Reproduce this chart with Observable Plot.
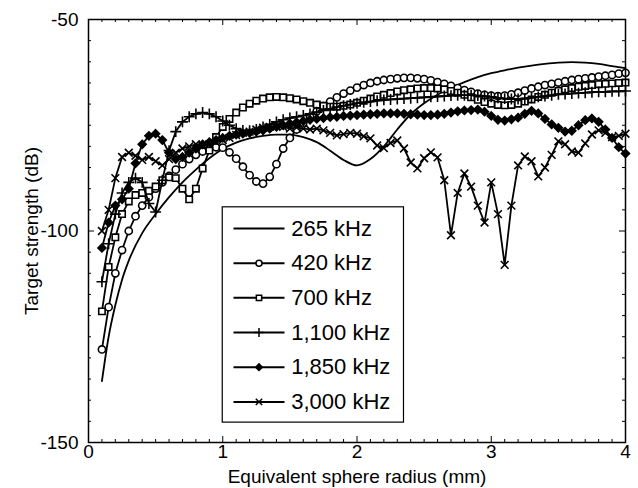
<!DOCTYPE html>
<html><head><meta charset="utf-8">
<script src="https://cdn.jsdelivr.net/npm/d3@7"></script>
<script src="https://cdn.jsdelivr.net/npm/@observablehq/plot@0.6"></script>
<style>
html,body{margin:0;padding:0;background:#fff;}
#chart{width:638px;height:488px;}
</style></head><body><div id="chart"></div>
<script>
// ---- data ----
const radius = [0.10,0.15,0.20,0.25,0.30,0.35,0.40,0.45,0.50,0.55,
0.60,0.65,0.70,0.75,0.80,0.85,0.90,0.95,1.00,1.05,
1.10,1.15,1.20,1.25,1.30,1.35,1.40,1.45,1.50,1.55,
1.60,1.65,1.70,1.75,1.80,1.85,1.90,1.95,2.00,2.05,
2.10,2.15,2.20,2.25,2.30,2.35,2.40,2.45,2.50,2.55,
2.60,2.65,2.70,2.75,2.80,2.85,2.90,2.95,3.00,3.05,
3.10,3.15,3.20,3.25,3.30,3.35,3.40,3.45,3.50,3.55,
3.60,3.65,3.70,3.75,3.80,3.85,3.90,3.95,4.00];

const radius265 = [0.10,0.15,0.20,0.25,0.30,0.40,0.50,0.60,0.70,0.80,0.90,1.00,1.10,1.20,1.30,1.40,1.50,1.60,1.70,1.80,1.90,2.00,2.10,2.20,2.30,2.40,2.50,2.60,2.70,2.80,2.90,3.00,3.10,3.20,3.30,3.40,3.50,3.60,3.70,3.80,3.90,4.00];
const ts265 = [-135.5,-125,-117.5,-111.5,-107,-100.5,-96,-92,-88.5,-85.5,-82.8,-80.6,-79.1,-78.1,-77.5,-77.2,-77.2,-77.8,-79,-81,-83.2,-84.5,-83,-80,-76,-72.4,-69.8,-67.8,-66.2,-64.8,-63.6,-62.7,-62,-61.4,-60.9,-60.5,-60.2,-60.1,-60.2,-60.5,-61,-61.5];

const ts420 = [-128,-118,-110,-104.5,-100,-96.5,-94,-92,-90,-88.5,
-87,-85.5,-84.2,-83,-82,-81.2,-80.6,-80.2,-80.3,-81.4,
-82.9,-84.8,-86.8,-88.3,-88.8,-87.2,-84.2,-80.5,-78,-76,
-74.4,-73,-71.7,-70.5,-69.4,-68.4,-67.5,-66.8,-66.1,-65.5,
-65,-64.6,-64.3,-64.1,-63.9,-63.8,-63.8,-63.9,-64.1,-64.4,
-64.8,-65.2,-65.7,-66.2,-66.7,-67.1,-67.5,-67.8,-68,-68.1,
-68,-67.7,-67.3,-66.8,-66.3,-65.9,-65.5,-65.2,-64.9,-64.6,
-64.3,-64.1,-63.9,-63.7,-63.5,-63.3,-63.1,-62.8,-62.6];

const ts700 = [-119,-108.5,-101.5,-96,-93,-91.5,-91,-90.5,-89.5,-88,
-87.3,-87.5,-90,-92.5,-90,-85.2,-81,-77.8,-75.4,-73.5,
-72,-70.8,-69.9,-69.2,-68.7,-68.4,-68.3,-68.4,-68.6,-68.9,
-69.3,-69.7,-70.1,-70.4,-70.6,-70.6,-70.4,-70.1,-69.7,-69.2,
-68.7,-68.2,-67.8,-67.4,-67,-66.7,-66.5,-66.3,-66.2,-66.2,
-66.3,-66.5,-66.9,-67.3,-67.8,-68.4,-69,-69.5,-69.9,-70.2,
-70.3,-70.2,-69.9,-69.4,-68.9,-68.3,-67.8,-67.3,-66.9,-66.5,
-66.2,-65.9,-65.7,-65.5,-65.3,-65.2,-65.1,-65,-64.9];

const ts1100 = [-112,-103,-96,-91,-88.5,-87.5,-88.5,-93.5,-95.5,-88,
-81,-76.5,-74.2,-73,-72.3,-72,-72.3,-73,-74,-75,
-75.8,-76.2,-76.3,-76,-75.4,-74.8,-74.2,-73.7,-73.3,-73,
-72.7,-72.3,-71.9,-71.5,-71.1,-70.7,-70.4,-70.1,-69.8,-69.6,
-69.4,-69.2,-69,-68.9,-68.8,-68.7,-68.6,-68.5,-68.4,-68.3,
-68.2,-68.1,-68,-67.9,-67.9,-67.9,-68,-68.1,-68.3,-68.5,
-68.7,-68.8,-68.8,-68.7,-68.5,-68.3,-68.1,-67.9,-67.7,-67.6,
-67.5,-67.4,-67.3,-67.2,-67.1,-67.1,-67,-67,-66.9];

const ts1850 = [-104,-98,-94,-92.5,-90,-84,-79.5,-77.5,-77,-78.5,
-81.5,-83,-82.5,-81.5,-80.5,-79.5,-79,-78.5,-78,-77.5,
-77.2,-77,-76.8,-76.5,-76.2,-75.8,-75.4,-75,-74.6,-74.3,
-74,-73.7,-73.5,-73.3,-73.1,-73,-72.8,-72.7,-72.6,-72.5,
-72.4,-72.3,-72.2,-72.2,-72.2,-72.3,-72.4,-72.5,-72.6,-72.6,
-72.5,-72.3,-72,-71.7,-71.5,-71.4,-71.3,-71.8,-72.8,-73.7,
-73.9,-73.6,-73.2,-72.3,-71.6,-72.2,-73.5,-74.8,-75.6,-76.5,
-76.3,-75,-73.8,-73.4,-74.2,-76,-78,-80.2,-81.7];

const ts3000 = [-100,-95,-87.5,-82.5,-81.5,-82.2,-83.2,-82.5,-83.5,-84.5,
-83,-81.5,-80.5,-80,-79.5,-79.8,-79.5,-79,-78.5,-78,
-77.3,-76.8,-76.5,-76,-75.6,-75.4,-75.2,-75.4,-75.8,-75.5,
-75.8,-76,-75.8,-76.2,-76.8,-77.4,-77.1,-76.8,-77,-77.6,
-78.1,-79.8,-80.4,-79.2,-78.6,-80.5,-83.8,-85.2,-82.8,-81.4,
-82.6,-88,-101,-91,-86.4,-89.5,-94,-98,-88.5,-96,
-108,-94,-84.5,-82.4,-83.5,-87.1,-85,-82,-78.8,-79.5,
-81.2,-81.5,-79.3,-77.2,-76.2,-76.8,-77.8,-77.5,-77];

const seriesLabels = ["265 kHz","420 kHz","700 kHz","1,100 kHz","1,850 kHz","3,000 kHz"];
const xTickLabels = [0,1,2,3,4];
const yTickLabels = [-150,-100,-50];
const xTitle = "Equivalent sphere radius (mm)";
const yTitle = "Target strength (dB)";

// ---- build tables ----
const markerSeries = [
  {label: "420 kHz",   values: ts420,  symbol: "circle",   fill: "white"},
  {label: "700 kHz",   values: ts700,  symbol: "square",   fill: "white"},
  {label: "1,100 kHz", values: ts1100, symbol: "plus",     fill: "none"},
  {label: "1,850 kHz", values: ts1850, symbol: "diamond2", fill: "black"},
  {label: "3,000 kHz", values: ts3000, symbol: "times",    fill: "none"}
];
const rows265 = radius265.map((r, i) => ({r, ts: ts265[i]}));

const W = 638, H = 488, mL = 88, mR = 13, mT = 19, mB = 46;
const frameW = W - mL - mR, frameH = H - mT - mB;

const xMinor = d3.range(1, 40).filter(i => i % 10 !== 0).map(i => i / 10);
const xMajor = [1, 2, 3];
const yMinor = d3.range(-145, -50, 5).filter(v => v !== -100);
const yMajor = [-100];

// legend layout (in data units of the chart)
const LEG = {x0: 1.0, x1: 2.35, top: -94.4, bottom: -145.3,
  lineA: 1.08, lineB: 1.46, markX: 1.27, textX: 1.51, firstY: -99.4, stepY: 8.2};
const legendY = i => LEG.firstY - LEG.stepY * i;

const marks = [];
// inward ticks
const minorLen = 3, majorLen = 6;
marks.push(Plot.tickX(xMinor, {x: d => d, insetTop: frameH - minorLen, stroke: "black"}));
marks.push(Plot.tickX(xMinor, {x: d => d, insetBottom: frameH - minorLen, stroke: "black"}));
marks.push(Plot.tickX(xMajor, {x: d => d, insetTop: frameH - majorLen, stroke: "black"}));
marks.push(Plot.tickX(xMajor, {x: d => d, insetBottom: frameH - majorLen, stroke: "black"}));
marks.push(Plot.tickY(yMinor, {y: d => d, insetRight: frameW - minorLen, stroke: "black"}));
marks.push(Plot.tickY(yMinor, {y: d => d, insetLeft: frameW - minorLen, stroke: "black"}));
marks.push(Plot.tickY(yMajor, {y: d => d, insetRight: frameW - majorLen, stroke: "black"}));
marks.push(Plot.tickY(yMajor, {y: d => d, insetLeft: frameW - majorLen, stroke: "black"}));

// 265 kHz smooth line
marks.push(Plot.line(rows265, {x: "r", y: "ts", stroke: "black", strokeWidth: 1.8, curve: "monotone-x"}));
// marker series
for (const s of markerSeries) {
  const rows = radius.map((r, i) => ({r, ts: s.values[i]}));
  marks.push(Plot.line(rows, {x: "r", y: "ts", stroke: "black", strokeWidth: 1.8}));
  marks.push(Plot.dot(rows, {x: "r", y: "ts", symbol: s.symbol, r: 3.6, fill: s.fill, stroke: "black", strokeWidth: 1.6}));
}

// legend
marks.push(Plot.rect([0], {x1: () => LEG.x0, x2: () => LEG.x1, y1: () => LEG.top, y2: () => LEG.bottom, fill: "white", stroke: "black", strokeWidth: 1.2}));
const legendRows = seriesLabels.map((label, i) => ({label, i}));
marks.push(Plot.link(legendRows, {x1: () => LEG.lineA, x2: () => LEG.lineB, y1: d => legendY(d.i), y2: d => legendY(d.i), stroke: "black", strokeWidth: 2}));
for (const s of markerSeries) {
  const i = seriesLabels.indexOf(s.label);
  marks.push(Plot.dot([i], {x: () => LEG.markX, y: d => legendY(d), symbol: s.symbol, r: 3, fill: s.fill, stroke: "black", strokeWidth: 1.5}));
}
marks.push(Plot.text(legendRows, {x: () => LEG.textX, y: d => legendY(d.i), text: "label", textAnchor: "start", fontSize: 22, fill: "black"}));

// axis titles
marks.push(Plot.text([xTitle], {text: d => d, frameAnchor: "bottom", lineAnchor: "middle", textAnchor: "middle", dy: 34, fontSize: 19, fill: "black"}));
marks.push(Plot.text([yTitle], {text: d => d, frameAnchor: "left", lineAnchor: "middle", textAnchor: "middle", dx: -57, rotate: -90, fontSize: 19, fill: "black"}));

marks.push(Plot.frame({stroke: "black", strokeWidth: 1.5}));

const chart = Plot.plot({
  width: W, height: H,
  marginLeft: mL, marginRight: mR, marginTop: mT, marginBottom: mB,
  style: {fontFamily: "'Liberation Sans', Arial, sans-serif", fontSize: "19px", color: "black", background: "white"},
  x: {domain: [0, 4], ticks: xTickLabels, tickSize: 0, tickPadding: 2, tickFormat: d => String(d), label: null},
  y: {domain: [-150, -50], ticks: yTickLabels, tickSize: 0, tickPadding: 10, tickFormat: d => String(d), label: null},
  marks
});
document.getElementById("chart").appendChild(chart);
</script>
</body></html>
